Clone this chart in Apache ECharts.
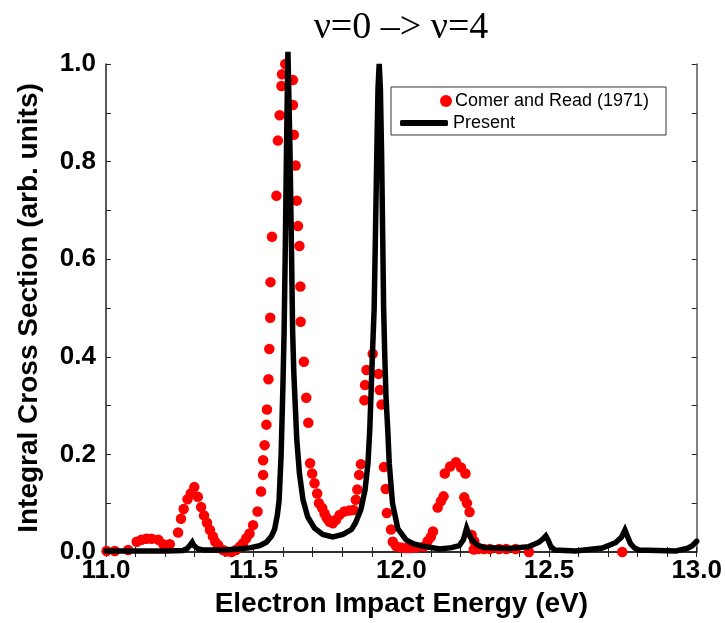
<!DOCTYPE html>
<html>
<head>
<meta charset="utf-8">
<script src="https://cdn.jsdelivr.net/npm/echarts@6/dist/echarts.min.js"></script>
<style>html,body{margin:0;padding:0;background:#fff}#c{width:725px;height:623px}</style>
</head>
<body>
<div id="c"></div>
<script>
// Comer and Read (1971) measured points
const redX = [11.002,11.03,11.075,11.104,11.12,11.137,11.154,11.177,11.194,11.216,
  11.244,11.254,11.263,11.276,11.287,11.299,11.311,11.322,11.332,11.342,11.352,11.362,11.37,11.38,11.396,11.408,11.425,11.44,11.453,11.464,11.475,11.486,11.498,11.513,11.525,11.532,11.532,11.537,11.543,11.545,11.55,11.553,11.556,11.557,11.562,11.577,11.582,11.588,11.594,11.596,11.607,
  11.633,11.633,11.636,11.642,11.646,11.65,11.655,11.658,11.659,11.67,11.678,11.685,11.691,11.698,11.706,11.715,11.721,11.732,11.74,11.748,11.757,11.768,11.779,11.791,11.807,11.824,11.838,11.846,11.851,11.857,11.863,11.875,11.877,11.882,11.903,
  11.923,11.927,11.933,11.941,11.947,11.951,11.965,11.971,11.982,11.999,12.016,12.033,12.05,12.075,12.089,12.1,12.107,12.123,12.134,12.143,12.147,12.165,12.185,12.202,12.217,12.213,12.222,12.231,12.238,12.247,12.245,12.26,12.28,12.30,12.331,12.355,12.387,12.432,12.748];
const redY = [0.002,0.002,0.004,0.021,0.025,0.027,0.027,0.025,0.016,0.016,
  0.04,0.068,0.088,0.108,0.12,0.133,0.113,0.092,0.075,0.06,0.045,0.032,0.021,0.014,0.004,0.001,0.0,0.004,0.011,0.018,0.028,0.038,0.055,0.083,0.124,0.158,0.188,0.219,0.261,0.292,0.354,0.416,0.48,0.553,0.646,0.73,0.843,0.895,0.955,0.979,1.0,
  0.967,0.916,0.855,0.792,0.72,0.668,0.627,0.544,0.472,0.39,0.316,0.265,0.182,0.161,0.141,0.12,0.1,0.09,0.079,0.069,0.062,0.059,0.066,0.076,0.083,0.085,0.086,0.107,0.128,0.158,0.18,0.311,0.342,0.373,0.406,
  0.365,0.332,0.302,0.174,0.129,0.08,0.046,0.021,0.012,0.009,0.008,0.008,0.009,0.011,0.022,0.031,0.042,0.091,0.104,0.114,0.161,0.175,0.184,0.173,0.161,0.112,0.1,0.082,0.035,0.022,0.005,0.006,0.006,0.006,0.006,0.006,0.006,0.0,0.0];

// Present calculation
const blackX = [11.00,11.10,11.20,11.26,11.275,11.285,11.292,11.298,11.31,11.33,11.40,11.45,11.49,11.52,11.543,11.56,11.571,11.58,11.586,11.593,11.599,11.603,11.607,11.611,11.616,11.623,11.628,11.632,11.636,11.641,11.646,11.655,11.667,11.683,11.706,11.734,11.768,11.802,11.831,11.845,11.863,11.877,11.887,11.893,11.897,11.903,11.908,11.912,11.917,11.921,11.925,11.929,11.933,11.937,11.94,11.944,11.948,11.954,11.959,11.97,11.988,12.016,12.04,12.072,12.13,12.17,12.196,12.21,12.221,12.23,12.24,12.258,12.28,12.365,12.432,12.466,12.48,12.489,12.497,12.506,12.52,12.59,12.68,12.725,12.745,12.757,12.767,12.776,12.79,12.804,12.93,12.97,12.985,13.0];
const blackY = [0.002,0.002,0.002,0.003,0.007,0.014,0.02,0.013,0.007,0.004,0.004,0.006,0.009,0.013,0.02,0.032,0.047,0.075,0.105,0.2,0.34,0.45,0.62,0.82,1.025,0.82,0.62,0.45,0.366,0.298,0.23,0.161,0.107,0.072,0.049,0.036,0.031,0.036,0.046,0.06,0.087,0.127,0.182,0.25,0.318,0.42,0.5,0.64,0.82,0.95,1.0,0.95,0.82,0.64,0.5,0.4,0.318,0.25,0.182,0.1,0.048,0.025,0.017,0.012,0.006,0.009,0.013,0.025,0.049,0.035,0.024,0.014,0.009,0.007,0.011,0.02,0.027,0.033,0.024,0.011,0.004,0.002,0.008,0.019,0.03,0.045,0.03,0.017,0.008,0.004,0.002,0.008,0.013,0.022];

const titleText = 'ν=0 –> ν=4';
const xTickStep = 0.1, xMin = 11.0, xMax = 13.0;
const yTickStep = 0.1, yMin = 0.0, yMax = 1.0;

const redData = redX.map((x, i) => [x, redY[i]]);
const blackData = blackX.map((x, i) => [x, blackY[i]]);

const chart = echarts.init(document.getElementById('c'), null, {renderer: 'canvas'});
const axisLine = {show: true, lineStyle: {color: '#222', width: 1.5}};
const tickStyle = {show: true, inside: true, length: 5, lineStyle: {color: '#222', width: 1}};
const lblFont = {fontFamily: 'Liberation Sans', fontWeight: 'bold', fontSize: 26, color: '#000'};
const near = (v, s) => Math.abs(v / s - Math.round(v / s)) < 1e-6;

chart.setOption({
  animation: false,
  backgroundColor: '#fff',
  title: {
    text: titleText, left: 396, top: 4, textAlign: 'center',
    textStyle: {fontFamily: 'Liberation Serif', fontWeight: 'normal', fontSize: 38, color: '#000'}
  },
  grid: {left: 106, right: 27, top: 64, bottom: 71},
  legend: [{
    data: ['Comer and Read (1971)'], left: 435, top: 87, orient: 'vertical',
    icon: 'circle', itemWidth: 12, itemHeight: 12, itemGap: 4,
    textStyle: {fontFamily: 'Liberation Sans', fontSize: 18, color: '#000', padding: [0, 0, 0, -2]}
  }, {
    data: ['Present'], left: 395, top: 109, orient: 'vertical',
    icon: 'roundRect', itemWidth: 48, itemHeight: 6,
    textStyle: {fontFamily: 'Liberation Sans', fontSize: 18, color: '#000', padding: [0, 0, 0, 0]}
  }],
  graphic: [{
    type: 'rect', shape: {x: 391, y: 87, width: 275, height: 48},
    style: {fill: 'none', stroke: '#333', lineWidth: 1}, z: 10
  }],
  xAxis: [{
    type: 'value', min: xMin, max: xMax, interval: xTickStep, position: 'bottom',
    name: 'Electron Impact Energy (eV)', nameLocation: 'middle', nameGap: 38,
    nameTextStyle: {fontFamily: 'Liberation Sans', fontWeight: 'bold', fontSize: 28, color: '#000'},
    axisLine: axisLine, axisTick: tickStyle, splitLine: {show: false},
    axisLabel: Object.assign({margin: 6, formatter: v => near(v, 0.5) ? v.toFixed(1) : ''}, lblFont)
  }, {
    type: 'value', min: xMin, max: xMax, interval: xTickStep, position: 'top',
    axisLine: axisLine, axisTick: tickStyle, axisLabel: {show: false}, splitLine: {show: false}
  }],
  yAxis: [{
    type: 'value', min: yMin, max: yMax, interval: yTickStep, position: 'left',
    name: 'Integral Cross Section (arb. units)', nameLocation: 'middle', nameGap: 63,
    nameTextStyle: {fontFamily: 'Liberation Sans', fontWeight: 'bold', fontSize: 28, color: '#000'},
    axisLine: axisLine, axisTick: tickStyle, splitLine: {show: false},
    axisLabel: Object.assign({margin: 10, formatter: v => near(v, 0.2) ? v.toFixed(1) : ''}, lblFont)
  }, {
    type: 'value', min: yMin, max: yMax, interval: yTickStep, position: 'right',
    axisLine: {show: true, lineStyle: {color: '#555', width: 1.5}}, axisTick: tickStyle,
    axisLabel: {show: false}, splitLine: {show: false}
  }],
  series: [{
    name: 'Comer and Read (1971)', type: 'scatter', data: redData,
    symbol: 'circle', symbolSize: 10.5, itemStyle: {color: '#ff0000', opacity: 1}, z: 2, clip: false
  }, {
    name: 'Present', type: 'line', data: blackData, showSymbol: false, symbol: 'none',
    lineStyle: {color: '#000', width: 5.5, join: 'miter', miterLimit: 6, cap: 'round'},
    itemStyle: {color: '#000'}, z: 3, clip: false
  }]
});
</script>
</body>
</html>
